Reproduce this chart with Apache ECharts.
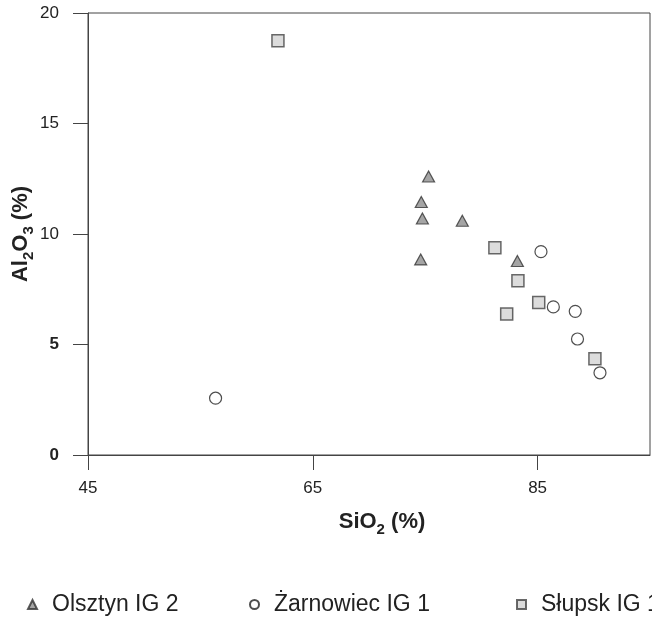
<!DOCTYPE html>
<html><head><meta charset="utf-8">
<script src="https://cdn.jsdelivr.net/npm/echarts@6/dist/echarts.min.js"></script>
<style>html,body{margin:0;padding:0;background:#fff}#c{width:652px;height:619px}</style>
</head><body><div id="c"></div>
<script>
// Olsztyn IG 2 (triangles): [SiO2, Al2O3]
const olsztyn = [[75.3,12.6],[74.65,11.45],[74.75,10.7],[78.3,10.6],[74.6,8.85],[83.2,8.78]];
// Żarnowiec IG 1 (circles)
const zarnowiec = [[56.35,2.57],[85.3,9.2],[86.4,6.7],[88.35,6.5],[88.55,5.25],[90.55,3.72]];
// Słupsk IG 1 (squares)
const slupsk = [[61.9,18.75],[81.2,9.38],[83.25,7.88],[85.1,6.9],[82.25,6.38],[90.1,4.35]];
const seriesNames = ['Olsztyn IG 2','Żarnowiec IG 1','Słupsk IG 1'];
const xTicks = [45,65,85];
const yTicks = [0,5,10,15,20];

const FF = '"Liberation Sans", Arial, sans-serif';
const TXT = '#222';
const chart = echarts.init(document.getElementById('c'), null, {renderer:'canvas'});
const nameRich = {
  a:{fontSize:22,fontWeight:'bold',fontFamily:FF,color:TXT,lineHeight:26,verticalAlign:'bottom'},
  s:{fontSize:15,fontWeight:'bold',fontFamily:FF,color:TXT,lineHeight:26,verticalAlign:'bottom',padding:[0,0,-4,0]}
};
const legendBase = {orient:'horizontal', top:588, itemWidth:9, itemHeight:9, itemGap:10,
  textStyle:{fontFamily:FF,fontSize:23,color:TXT,padding:[0,0,0,10]}};
chart.setOption({
  animation:false,
  backgroundColor:'#fff',
  grid:{left:88, top:13, right:2, bottom:164, show:true, borderColor:'#444', borderWidth:1,
    containLabel:false, outerBoundsMode:'none'},
  legend:[
    Object.assign({left:22, data:[{name:seriesNames[0]}]}, legendBase),
    Object.assign({left:244, data:[{name:seriesNames[1]}]}, legendBase),
    Object.assign({left:511, data:[{name:seriesNames[2]}]}, legendBase)
  ],
  xAxis:{type:'value', min:45, max:95,
    name:'{a|SiO}{s|2}{a| (%)}', nameLocation:'middle', nameGap:52,
    nameTextStyle:{rich:nameRich, padding:[0,0,0,26]},
    axisLine:{show:true, onZero:false, lineStyle:{color:'#444',width:1}},
    axisTick:{show:true, inside:false, length:15, customValues:xTicks, lineStyle:{color:'#444'}},
    axisLabel:{customValues:xTicks, margin:25, fontFamily:FF, fontSize:17, color:TXT},
    splitLine:{show:false}},
  yAxis:{type:'value', min:0, max:20, interval:5,
    name:'{a|Al}{s|2}{a|O}{s|3}{a| (%)}', nameLocation:'middle', nameGap:56, nameMoveOverlap:false,
    nameTextStyle:{rich:nameRich},
    axisLine:{show:true, onZero:false, lineStyle:{color:'#444',width:1}},
    axisTick:{show:true, inside:false, length:15, lineStyle:{color:'#444'}},
    axisLabel:{margin:29, fontFamily:FF, fontSize:17, color:TXT,
      formatter:function(v){return (v===0||v===5)?'{b|'+v+'}':String(v);},
      rich:{b:{fontFamily:FF,fontSize:17,fontWeight:'bold',color:TXT}}},
    splitLine:{show:false}},
  series:[
    {name:seriesNames[0], type:'scatter', symbol:'triangle', symbolSize:[12,11], data:olsztyn,
      itemStyle:{color:'#8f8f8f', borderColor:'#333', borderWidth:1.2}},
    {name:seriesNames[1], type:'scatter', symbol:'circle', symbolSize:12, data:zarnowiec,
      itemStyle:{color:'#fff', borderColor:'#222', borderWidth:1.2}},
    {name:seriesNames[2], type:'scatter', symbol:'rect', symbolSize:12, data:slupsk,
      itemStyle:{color:'#d3d3d3', borderColor:'#444', borderWidth:1.5}}
  ]
});
</script></body></html>
